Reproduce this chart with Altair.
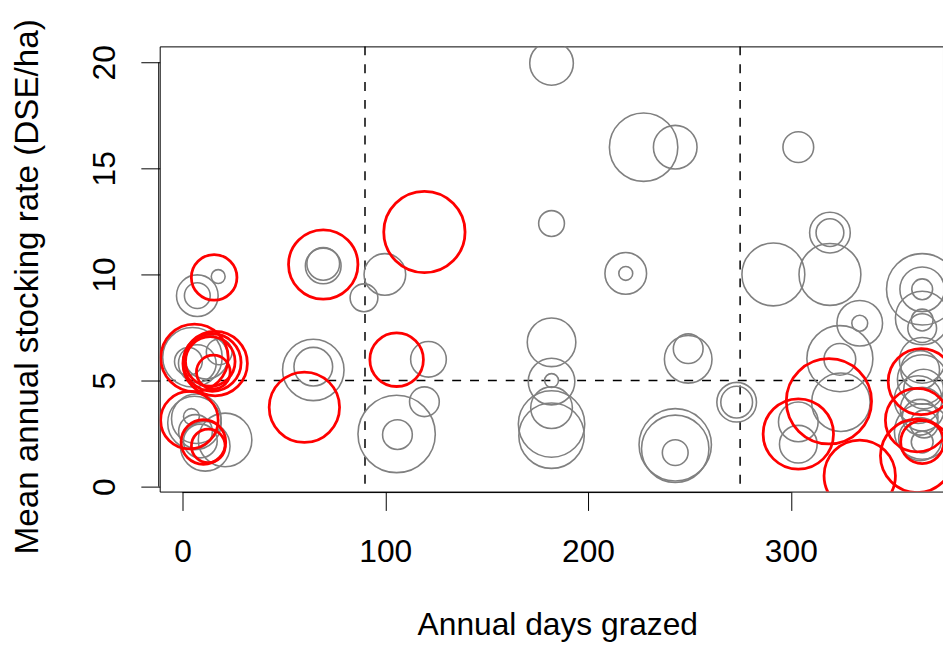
import altair as alt
import pandas as pd

# ---- data ----
x_ticks = [0, 100, 200, 300]
y_ticks = [0, 5, 10, 15, 20]
v_cut = [90, 275]
h_cut = [5]

gray_days = [7.3, 7.3, 17.6, 4.9, 7.3, 2.9, 18.1, 11.7, 5.9, 6.8, 6.4, 8.8, 11.2, 21.0, 4.4,
             69.4, 69.4, 89.5, 99.8, 121.3, 119.3, 105.6, 106.0, 64.5, 64.5,
             182, 227.4, 243, 182, 218.6, 218.6, 182, 182, 182, 182, 182, 182,
             249.4, 249.4, 243, 243, 243, 273.3, 273.3,
             303.7, 319.3, 319.3, 291.4, 319.3, 334, 334, 324.2, 324.2, 324.7, 303.7, 303.7,
             364.8, 364.8, 364.8, 364.8, 364.8, 364.8, 364.8, 363.8, 364.8, 365.5, 362.8,
             364.8, 363.8, 365.8, 363.8, 364.8, 364.8]
gray_rate = [9.0, 9.0, 9.9, 6.1, 5.8, 5.9, 6.35, 6.1, 3.0, 3.2, 2.6, 2.15, 1.9, 2.2, 3.3,
             10.4, 10.5, 8.9, 10.0, 6.0, 4.0, 2.48, 2.45, 5.5, 5.65,
             19.95, 16.0, 16.0, 12.4, 10.05, 10.05, 6.8, 4.95, 5.0, 3.72, 2.95, 2.4,
             6.0, 6.5, 1.97, 1.78, 1.6, 3.98, 3.98,
             16.0, 11.97, 11.97, 10.0, 10.0, 7.7, 7.7, 6.03, 6.0, 3.98, 3.05, 2.0,
             9.3, 9.3, 9.3, 7.95, 7.85, 7.47, 5.95, 5.5, 5.05, 4.6, 4.1,
             3.65, 3.27, 2.95, 2.24, 2.6, 2.1]
gray_weight = [10.5, 6.5, 3.5, 15, 9.5, 7, 6.5, 11, 13.5, 12.5, 8.5, 8.5, 12.5, 13.5, 4,
               9, 8.25, 7, 10.5, 9, 7.5, 19.5, 7.5, 15.5, 9.75,
               11, 17.25, 11, 6.5, 10.5, 3.5, 12.25, 11.75, 3.5, 10.5, 16.75, 16.5,
               12, 7.5, 18.25, 17, 6.5, 10, 8,
               7.75, 10.25, 7, 15.85, 15.6, 11.5, 4, 16.65, 8, 14.75, 10, 9.5,
               18, 11.25, 5.25, 13.5, 5.5, 7.25, 11.5, 9.75, 12.5, 10, 12,
               11, 9, 7, 10.85, 14, 5.5]

red_days = [5.9, 16.1, 13.7, 14.7, 15.2, 15.6, 3.4, 10.3, 12.7,
            69.4, 119.3, 105.6, 60.1,
            318.8, 303.7, 334, 364.3, 362.3, 364.8, 362.3]
red_rate = [6.07, 5.8, 5.9, 5.85, 5.4, 9.86, 3.13, 2.1, 1.92,
            10.47, 12.0, 5.98, 3.74,
            4.02, 2.48, 0.51, 4.95, 3.13, 2.1, 1.45]
red_weight = [17, 16.25, 12.5, 14.5, 8.5, 11.5, 14.5, 11.25, 8.5,
              17.5, 20.5, 13.5, 17.75,
              21.5, 17.75, 18, 16.65, 16, 10.85, 18.5]

gray_df = pd.DataFrame({"x": gray_days, "y": gray_rate, "w": gray_weight})
red_df = pd.DataFrame({"x": red_days, "y": red_rate, "w": red_weight})

FONT = "Liberation Sans"

xs = alt.Scale(domain=[-11.25, 375.06], nice=False, zero=False)
ys = alt.Scale(domain=[-0.234, 20.75], nice=False, zero=False)
ss = alt.Scale(type="pow", exponent=2, domain=[0, 25], range=[0, 10000])

xaxis = alt.Axis(values=x_ticks, title="Annual days grazed", grid=False, domain=False,
                 tickSize=19, tickColor="black", tickWidth=1,
                 labelFont=FONT, labelFontSize=32, labelColor="black",
                 labelBaseline="alphabetic", labelPadding=52, labelAlign="center",
                 titleFont=FONT, titleFontSize=32, titleFontWeight="normal", titleColor="black",
                 titleX=401, titleY=144, titleBaseline="alphabetic", titleAlign="center")
yaxis = alt.Axis(values=y_ticks, title="Mean annual stocking rate (DSE/ha)", grid=False, domain=False,
                 tickSize=19, tickColor="black", tickWidth=1,
                 labelFont=FONT, labelFontSize=32, labelColor="black",
                 labelAngle=270, labelAlign="center", labelBaseline="middle", labelPadding=37,
                 titleFont=FONT, titleFontSize=33.5, titleFontWeight="normal", titleColor="black",
                 titleAngle=270, titleX=-123, titleY=242, titleBaseline="alphabetic", titleAlign="center")

X = alt.X("x:Q", scale=xs, axis=xaxis)
Y = alt.Y("y:Q", scale=ys, axis=yaxis)

gray = alt.Chart(gray_df).mark_point(shape="circle", filled=False, clip=True, opacity=1,
                                     color="#808080", strokeWidth=1.6).encode(
    x=X, y=Y, size=alt.Size("w:Q", scale=ss, legend=None))
red = alt.Chart(red_df).mark_point(shape="circle", filled=False, clip=True, opacity=1,
                                   color="#FF0000", strokeWidth=2.8).encode(
    x=X, y=Y, size=alt.Size("w:Q", scale=ss, legend=None))

vrule = alt.Chart(pd.DataFrame({"x": v_cut})).mark_rule(
    color="black", strokeDash=[9, 9], strokeWidth=1.5).encode(x=X)
hrule = alt.Chart(pd.DataFrame({"y": h_cut})).mark_rule(
    color="black", strokeDash=[9, 9], strokeWidth=1.5).encode(y=Y)

xline = alt.Chart(pd.DataFrame({"x": [x_ticks[0]], "x2": [x_ticks[-1]]})).mark_rule(
    color="black", strokeWidth=1).encode(x=X, x2="x2:Q", y=alt.value(450))
yline = alt.Chart(pd.DataFrame({"y": [y_ticks[0]], "y2": [y_ticks[-1]]})).mark_rule(
    color="black", strokeWidth=1).encode(y=Y, y2="y2:Q", x=alt.value(-1))

chart = alt.layer(vrule, hrule, gray, red, xline, yline).properties(
    width=790, height=449,
    autosize=alt.AutoSizeParams(type="none"),
    padding={"left": 153, "top": 36, "right": 0, "bottom": 149},
    background="white",
).configure_view(stroke="black", strokeWidth=1)

chart.save("out.html", embed_options={"renderer": "svg", "actions": False})
